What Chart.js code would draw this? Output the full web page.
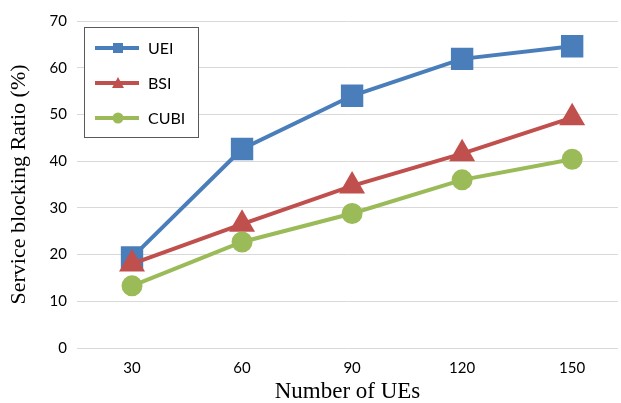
<!DOCTYPE html>
<html>
<head>
<meta charset="utf-8">
<script src="https://cdn.jsdelivr.net/npm/chart.js@4.4.1/dist/chart.umd.min.js"></script>
<style>
  html, body { margin: 0; padding: 0; background: #fff; }
  #wrap { width: 621px; height: 403px; }
</style>
</head>
<body>
<div id="wrap"><canvas id="chart" width="621" height="403"></canvas></div>
<script>
// data
const ues = [30, 60, 90, 120, 150];
const uei = [19.4, 42.6, 54.0, 61.9, 64.6];
const bsi = [18.0, 26.5, 34.7, 41.6, 49.3];
const cubi = [13.3, 22.7, 28.8, 36.0, 40.4];
const yTicks = [0, 10, 20, 30, 40, 50, 60, 70];

const toPts = (vals) => vals.map((v, i) => ({x: ues[i], y: v}));

//legend drawn inside the plot, top left
const boxLegend = {
  id: 'boxLegend',
  afterDraw(chart) {
    const {ctx} = chart;
    const x0 = 84, y0 = 27, w = 114, h = 110;
    ctx.save();
    ctx.fillStyle = '#fff';
    ctx.fillRect(x0, y0, w, h);
    ctx.strokeStyle = '#595959';
    ctx.lineWidth = 1;
    ctx.strokeRect(x0 + 0.5, y0 + 0.5, w, h);
    chart.data.datasets.forEach((ds, i) => {
      const cy = y0 + 21 + i * 35;
      ctx.strokeStyle = ds.borderColor;
      ctx.lineWidth = 4;
      ctx.beginPath();
      ctx.moveTo(x0 + 11, cy);
      ctx.lineTo(x0 + 55, cy);
      ctx.stroke();
      ctx.fillStyle = ds.backgroundColor;
      const mx = x0 + 34;
      if (ds.pointStyle === 'rect') {
        ctx.fillRect(mx - 5, cy - 5, 10, 10);
      } else if (ds.pointStyle === 'triangle') {
        ctx.beginPath();
        ctx.moveTo(mx, cy - 6);
        ctx.lineTo(mx + 6, cy + 5);
        ctx.lineTo(mx - 6, cy + 5);
        ctx.closePath();
        ctx.fill();
      } else {
        ctx.beginPath();
        ctx.arc(mx, cy, 5.5, 0, Math.PI * 2);
        ctx.fill();
      }
      ctx.fillStyle = '#000';
      ctx.font = '16px Lato, "Open Sans", sans-serif';
      ctx.textBaseline = 'middle';
      ctx.fillText(ds.label, x0 + 64, cy + 1);
    });
    ctx.restore();
  }
};

// order: later series drawn on top, like the original
const data = {
  datasets: [
    {label: 'UEI', data: toPts(uei), borderColor: '#4A7EBB', backgroundColor: '#4A7EBB',
     pointStyle: 'rect', pointRadius: 13, borderWidth: 4, order: 3},
    {label: 'BSI', data: toPts(bsi), borderColor: '#C0504D', backgroundColor: '#C0504D',
     pointStyle: 'triangle', pointRadius: 11, borderWidth: 4, order: 2},
    {label: 'CUBI', data: toPts(cubi), borderColor: '#9BBB59', backgroundColor: '#9BBB59',
     pointStyle: 'circle', pointRadius: 8.5, borderWidth: 4, order: 1}
  ]
};

const config = {
  type: 'line',
  data: data,
  options: {
    responsive: false,
    animation: false,
    layout: {autoPadding: false, padding: {top: 21, right: 3, left: 0, bottom: 0}},
    plugins: {legend: {display: false}, tooltip: {enabled: false}},
    elements: {point: {borderWidth: 1}},
    scales: {
      x: {
        type: 'linear',
        min: 15, max: 162.5,
        afterBuildTicks: (axis) => { axis.ticks = ues.map(v => ({value: v})); },
        afterFit: (axis) => { axis.height = 55; axis.paddingLeft = 0; axis.paddingRight = 0; },
        grid: {display: false},
        border: {display: false},
        ticks: {color: '#000', font: {family: 'Lato, "Open Sans", sans-serif', size: 15}, padding: 3},
        title: {display: true, text: 'Number of UEs', color: '#000',
                font: {family: '"Liberation Serif", "Times New Roman", serif', size: 23, lineHeight: 1},
                padding: {top: 0, bottom: 0}}
      },
      y: {
        min: 0, max: 70,
        afterBuildTicks: (axis) => { axis.ticks = yTicks.map(v => ({value: v})); },
        afterFit: (axis) => { axis.width = 77; },
        grid: {color: '#D9D9D9', lineWidth: 1, drawTicks: false},
        border: {display: false},
        ticks: {color: '#000', font: {family: 'Lato, "Open Sans", sans-serif', size: 15}, padding: 10},
        title: {display: true, text: 'Service blocking Ratio (%)', color: '#000',
                font: {family: '"Liberation Serif", "Times New Roman", serif', size: 22}, padding: {top: 6, bottom: 4}}
      }
    }
  },
  plugins: [boxLegend]
};

const chart = new Chart(document.getElementById('chart'), config);
</script>
</body>
</html>
